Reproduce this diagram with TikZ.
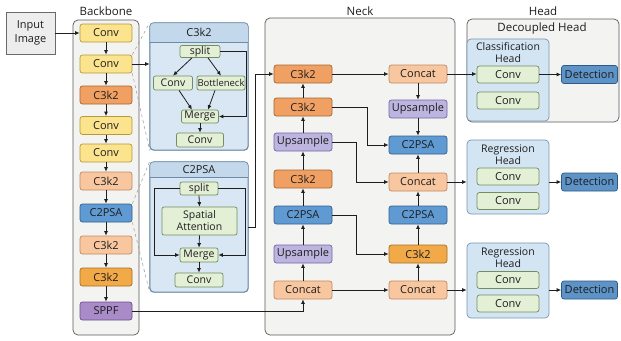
\documentclass[tikz,border=0pt]{standalone}
\usepackage{fontspec}
\setmainfont{Open Sans}
\usetikzlibrary{arrows.meta,calc}
\definecolor{txt}{HTML}{1E1E1E}
\definecolor{cArr}{HTML}{1E1E1E}
\definecolor{contF}{HTML}{F3F3F1}
\definecolor{contD}{HTML}{5A5A5A}
\definecolor{inF}{HTML}{EDEDED}
\definecolor{inD}{HTML}{6A6A6A}
\definecolor{yelF}{HTML}{FCE48F}
\definecolor{yelD}{HTML}{B59A3A}
\definecolor{orgF}{HTML}{F0A062}
\definecolor{orgD}{HTML}{A8662E}
\definecolor{lorF}{HTML}{F8C7A0}
\definecolor{lorD}{HTML}{BF8A62}
\definecolor{ambF}{HTML}{F2A948}
\definecolor{ambD}{HTML}{A8701E}
\definecolor{bluF}{HTML}{5F9AD3}
\definecolor{bluD}{HTML}{34618F}
\definecolor{purF}{HTML}{BDB5DF}
\definecolor{purD}{HTML}{6F67A3}
\definecolor{sppF}{HTML}{A98BC8}
\definecolor{sppD}{HTML}{6B4F8E}
\definecolor{detF}{HTML}{D8E7F3}
\definecolor{detD}{HTML}{6C8BA8}
\definecolor{titF}{HTML}{C3D8EA}
\definecolor{grnF}{HTML}{E3F0D6}
\definecolor{grnD}{HTML}{728D5E}
\definecolor{hbF}{HTML}{D3E4F2}
\definecolor{hbD}{HTML}{7895B3}
\definecolor{dtF}{HTML}{5E93C8}
\definecolor{dtD}{HTML}{2E5A85}
\tikzset{
  base/.style={draw, rounded corners=2.5pt, inner sep=0pt, align=center, text=txt, line width=0.7pt, font=\fontsize{11}{12}\selectfont},
  bbn/.style={base, minimum width=52pt, minimum height=18pt},
  nkn/.style={base, minimum width=58pt, minimum height=18pt},
  s-yel/.style={fill=yelF, draw=yelD},
  s-org/.style={fill=orgF, draw=orgD},
  s-lor/.style={fill=lorF, draw=lorD},
  s-amb/.style={fill=ambF, draw=ambD},
  s-blu/.style={fill=bluF, draw=bluD},
  s-pur/.style={fill=purF, draw=purD},
  s-spp/.style={fill=sppF, draw=sppD},
  gn/.style={base, fill=grnF, draw=grnD, rounded corners=2pt, font=\fontsize{10.5}{11.5}\selectfont},
  cont/.style={draw=contD, fill=contF, rounded corners=5pt, line width=0.7pt, inner sep=0pt},
  detail/.style={draw=detD, fill=detF, rounded corners=4pt, line width=0.7pt, inner sep=0pt},
  hbox/.style={draw=hbD, fill=hbF, rounded corners=4pt, line width=0.7pt, inner sep=0pt},
  hconv/.style={base, fill=grnF, draw=grnD, minimum width=62pt, minimum height=17pt},
  det/.style={base, fill=dtF, draw=dtD, minimum width=56pt, minimum height=18pt},
  lbl/.style={text=txt, font=\fontsize{11.5}{12.5}\selectfont, inner sep=0pt},
  arr/.style={-{Latex[length=4.5pt,width=4pt]}, line width=0.8pt, draw=cArr},
  dsh/.style={dashed, draw=gray!80, line width=0.5pt},
}
\begin{document}
\begin{tikzpicture}[x=1pt,y=-1pt]
\useasboundingbox (0,0) rectangle (621,340);
\fill[white] (0,0) rectangle (621,340);

% containers
\node[cont, minimum width=66pt, minimum height=315pt] (bbc) at (106,177.5) {};
\node[cont, minimum width=190pt, minimum height=317pt] (nkc) at (360,176.5) {};
\node[cont, minimum width=152pt, minimum height=103pt] (dhc) at (543,70.5) {};
\node[lbl] (lbb) at (106,11) {Backbone};
\node[lbl] (lnk) at (360,11) {Neck};
\node[lbl] (lhd) at (543,11) {Head};
\node[lbl] (ldh) at (542,29) {Decoupled Head};

% input
\node[base, fill=inF, draw=inD, rounded corners=0pt, minimum width=49pt, minimum height=42pt, font=\fontsize{11}{14}\selectfont] (inp) at (30.5,33) {Input\\Image};

% backbone
\node[bbn, s-yel] (b1) at (106,33) {Conv};
\node[bbn, s-yel] (b2) at (106,64) {Conv};
\node[bbn, s-org] (b3) at (106,95) {C3k2};
\node[bbn, s-yel] (b4) at (106,125.5) {Conv};
\node[bbn, s-yel] (b5) at (106,153) {Conv};
\node[bbn, s-lor] (b6) at (106,181) {C3k2};
\node[bbn, s-blu] (b7) at (106,213) {C2PSA};
\node[bbn, s-lor] (b8) at (106,245) {C3k2};
\node[bbn, s-amb] (b9) at (106,277) {C3k2};
\node[bbn, s-spp] (b10) at (106,311) {SPPF};
\draw[arr] (inp.east) -- (b1.west);
\foreach \a/\b in {b1/b2,b2/b3,b3/b4,b4/b5,b5/b6,b6/b7,b7/b8,b8/b9,b9/b10}
  \draw[arr] (\a.south) -- (\b.north);

% C3k2 detail
\node[detail, minimum width=98pt, minimum height=127pt] (c3d) at (199,86.5) {};
\fill[titF] (c3d.west |- 0,42) [rounded corners=4pt] -- (c3d.north west) -- (c3d.north east) [sharp corners] -- (c3d.east |- 0,42) -- cycle;
\draw[detD, line width=0.7pt] (c3d.west |- 0,42) -- (c3d.east |- 0,42);
\draw[detD, line width=0.7pt, rounded corners=4pt] (c3d.north west) rectangle (c3d.south east);
\node[lbl, font=\fontsize{11}{12}\selectfont] (c3t) at (199,32.5) {C3k2};
\node[gn, minimum width=40pt, minimum height=12pt] (c3s) at (200,51.5) {split};
\node[gn, minimum width=39pt, minimum height=14pt] (c3c) at (173,83) {Conv};
\node[gn, minimum width=48pt, minimum height=14pt, font=\fontsize{9.5}{10}\selectfont] (c3b) at (221,83) {Bottleneck};
\node[gn, minimum width=37pt, minimum height=13pt] (c3m) at (200,116.5) {Merge};
\node[gn, minimum width=47pt, minimum height=14pt] (c3o) at (200,140) {Conv};
\draw[arr] ([xshift=-8pt]c3s.south) -- (c3c.north);
\draw[arr] ([xshift=8pt]c3s.south) -- (c3b.north);
\draw[arr] ([xshift=6pt]c3c.south) -- ([xshift=-8pt]c3m.north);
\draw[arr] ([xshift=-6pt]c3b.south) -- ([xshift=8pt]c3m.north);
\draw[arr] (c3s.east) -- ++(26,0) |- (c3m.east);
\draw[arr] (c3m.south) -- (c3o.north);

% C2PSA detail
\node[detail, minimum width=98pt, minimum height=130pt] (c2d) at (199,227) {};
\fill[titF] (c2d.west |- 0,177) [rounded corners=4pt] -- (c2d.north west) -- (c2d.north east) [sharp corners] -- (c2d.east |- 0,177) -- cycle;
\draw[detD, line width=0.7pt] (c2d.west |- 0,177) -- (c2d.east |- 0,177);
\draw[detD, line width=0.7pt, rounded corners=4pt] (c2d.north west) rectangle (c2d.south east);
\node[lbl, font=\fontsize{11}{12}\selectfont] (c2t) at (199,169.5) {C2PSA};
\node[gn, minimum width=38pt, minimum height=13pt] (c2s) at (199,188.5) {split};
\node[gn, minimum width=75pt, minimum height=28pt, font=\fontsize{10.5}{12}\selectfont] (c2a) at (199.5,221) {Spatial\\Attention};
\node[gn, minimum width=38pt, minimum height=14pt] (c2m) at (199,255) {Merge};
\node[gn, minimum width=48pt, minimum height=14pt] (c2o) at (199,280) {Conv};
\draw[arr] (c2s.south) -- (c2a.north);
\draw[arr] (c2a.south) -- (c2m.north);
\draw[arr] (c2m.south) -- (c2o.north);
\draw[arr] (c2s.west) -- ++(-25,0) |- (c2m.west);
\draw[arr] (c2s.east) -- ++(27,0) |- (c2m.east);

% backbone to details
\draw[arr] (b2.east) -- (b2.east -| c3d.west);
\draw[dsh] (b2.north east) -- (c3d.north west);
\draw[dsh] (b2.south east) -- (c3d.south west);
\draw[dsh] (b7.north east) -- (c2d.north west);
\draw[dsh] (b7.south east) -- (c2d.south west);

% neck
\node[nkn, s-org] (nL1) at (303,74) {C3k2};
\node[nkn, s-org] (nL2) at (303,107) {C3k2};
\node[nkn, s-pur] (nL3) at (303,142) {Upsample};
\node[nkn, s-org] (nL4) at (303,179) {C3k2};
\node[nkn, s-blu] (nL5) at (303,215) {C2PSA};
\node[nkn, s-pur] (nL6) at (303,254) {Upsample};
\node[nkn, s-lor] (nL7) at (303,290) {Concat};
\node[nkn, s-lor] (nR1) at (418,74) {Concat};
\node[nkn, s-pur] (nR2) at (418,109) {Upsample};
\node[nkn, s-blu] (nR3) at (418,145) {C2PSA};
\node[nkn, s-lor] (nR4) at (418,182) {Concat};
\node[nkn, s-blu] (nR5) at (418,215) {C2PSA};
\node[nkn, s-amb] (nR6) at (418,254) {C3k2};
\node[nkn, s-lor] (nR7) at (418,290) {Concat};
\foreach \a/\b in {nL7/nL6,nL6/nL5,nL5/nL4,nL4/nL3,nL3/nL2,nL2/nL1,nR4/nR3,nR5/nR4,nR6/nR5,nR7/nR6}
  \draw[arr] (\a.north) -- (\b.south);
\draw[arr] (nR1.south) -- (nR2.north);
\draw[arr] (nR2.south) -- (nR3.north);
\draw[arr] (nL1.east) -- (nR1.west);
\draw[arr] (nL7.east) -- (nR7.west);
\draw[arr] (nL2.east) -- ++(35,0) |- (nR3.west);
\draw[arr] (nL3.east) -- ++(24,0) |- (nR4.west);
\draw[arr] (nL5.east) -- ++(24,0) |- (nR6.west);
\draw[arr] (c2d.east) -- ++(7,0) |- (nL1.west);
\draw[arr] (b10.east) -| (nL7.south);

% head
\node[hbox, minimum width=82pt, minimum height=82pt] (hcls) at (508,80) {};
\node[lbl, align=center, font=\fontsize{10.5}{11.5}\selectfont] (tcls) at (508,52.5) {Classification\\Head};
\node[hconv] (hc1) at (508,74.5) {Conv};
\node[hconv] (hc2) at (508,100.5) {Conv};
\node[det] (dt1) at (589.5,74.5) {Detection};

\node[hbox, minimum width=82pt, minimum height=74pt] (hrg1) at (508,177) {};
\node[lbl, align=center, font=\fontsize{10.5}{11.5}\selectfont] (trg1) at (508,154.5) {Regression\\Head};
\node[hconv] (hr1a) at (508,176.5) {Conv};
\node[hconv] (hr1b) at (508,201) {Conv};
\node[det] (dt2) at (589.5,182) {Detection};

\node[hbox, minimum width=82pt, minimum height=75pt] (hrg2) at (508,280.5) {};
\node[lbl, align=center, font=\fontsize{10.5}{11.5}\selectfont] (trg2) at (508,257.5) {Regression\\Head};
\node[hconv] (hr2a) at (508,280) {Conv};
\node[hconv] (hr2b) at (508,303.5) {Conv};
\node[det] (dt3) at (589.5,290) {Detection};

\draw[arr] (nR1.east) -- (nR1.east -| hc1.west);
\draw[arr] (hc1.east) -- (dt1.west);
\draw[arr] (nR4.east) -- (nR4.east -| hrg1.west);
\draw[arr] (dt2.west -| hrg1.east) -- (dt2.west);
\draw[arr] (nR7.east) -- (nR7.east -| hrg2.west);
\draw[arr] (dt3.west -| hrg2.east) -- (dt3.west);
\end{tikzpicture}
\end{document}
